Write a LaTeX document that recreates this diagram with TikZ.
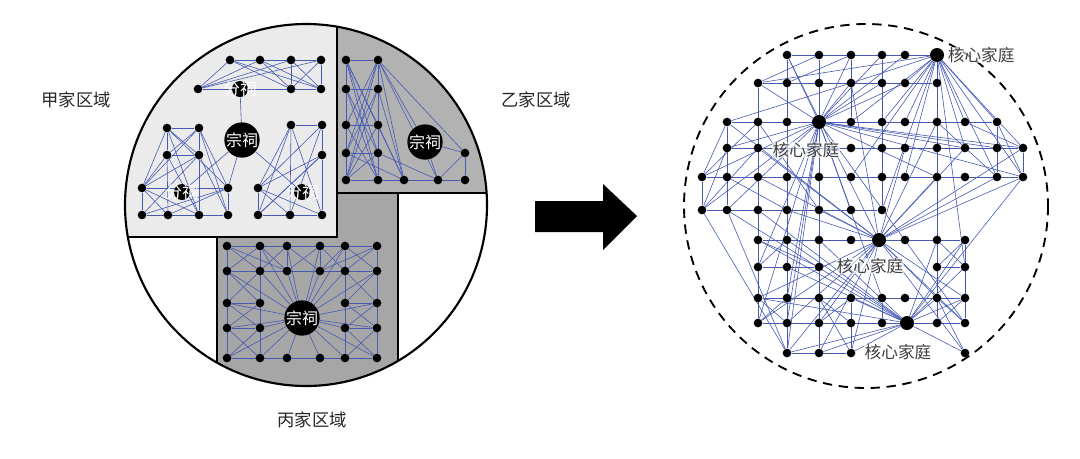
\documentclass[tikz,border=0pt]{standalone}
\usepackage{fontspec}
\newfontfamily\cjk{Noto Sans CJK SC}
\usetikzlibrary{positioning}
\pgfdeclarelayer{bg}
\pgfsetlayers{bg,main}
\definecolor{linkblue}{RGB}{70,90,180}
\tikzset{
  dot/.style={circle, fill=black, inner sep=0pt, minimum size=6.5pt},
  hub/.style={circle, fill=black, inner sep=0pt, minimum size=10.5pt},
  ancestral/.style={circle, fill=black, inner sep=0pt, minimum size=21pt, text=white, font=\cjk\fontsize{12}{12}\selectfont},
  branch/.style={circle, fill=black, inner sep=0pt, minimum size=12pt},
  branchtext/.style={text=white, font=\cjk\fontsize{12.5}{12.5}\selectfont},
  famtext/.style={text=black!75, font=\cjk\fontsize{12.5}{12.5}\selectfont, fill=white, fill opacity=0.6, text opacity=1, inner sep=0.5pt},
  region/.style={font=\cjk\fontsize{13}{13}\selectfont, text=black!85},
  link/.style={draw=linkblue, line width=0.45pt}
}
\begin{document}
\begin{tikzpicture}[x=0.75pt, y=-0.75pt]
\useasboundingbox (0,0) rectangle (1080,458);

% left circle with three family regions
\begin{pgfonlayer}{bg}
\begin{scope}
  \clip (306,205) circle (181);
  \fill[white] (306,205) circle (181);
  \filldraw[fill=black!35, draw=black, line width=0.9pt] (217,193) rectangle (398,400);
  \filldraw[fill=black!30, draw=black, line width=0.9pt] (335,10) rectangle (500,193);
  \filldraw[fill=black!8, draw=black, line width=0.9pt] (110,10) rectangle (337,237);
\end{scope}
\end{pgfonlayer}
\draw[line width=1.6pt] (306,205) circle (181);

% region names
\node[region] (jia) at (76,100) {甲家区域};
\node[region] (yi) at (536,100) {乙家区域};
\node[region] (bing) at (312,420) {丙家区域};

% family jia
\node[ancestral] (zc1) at (242,140) {宗祠};
\node[branch] (f1) at (240,89) {};
\node[branch] (f2) at (182,192) {};
\node[branch] (f3) at (302,192) {};
\foreach \n/\x/\y in {t1/230/60,t2/260/60,t3/291/60,t4/321/60,t5/198/89,t6/291/89,t7/321/89,
  a1/167/128,a2/199/128,a3/167/155,a4/199/155,a5/142/188,a6/228/188,a7/142/215,a8/168/215,a9/199/215,a10/228/215,
  b1/291/125,b2/322/125,b3/322/155,b4/258/188,b5/258/215,b6/290/215,b7/322/215}
  \node[dot] (\n) at (\x,\y) {};
\begin{pgfonlayer}{bg}
\foreach \a/\b in {t1/t4,t5/t7,t1/t5,t1/t6,t1/t7,t2/t5,t2/t6,t2/t7,t3/t5,t3/t7,t4/t6,t4/t7,t3/t6,t4/t5,t2/t4,
  a1/a2,a3/a4,a7/a10,a5/a6,a1/a3,a2/a4,a3/a5,a4/a9,a5/a7,a6/a10,a1/a4,a2/a3,a1/a9,a2/a5,a2/a6,a1/a6,a3/a8,a4/a10,a5/a8,a7/a6,a4/a5,a3/a9,a2/a10,a5/a9,a6/a8,a1/a5,a4/a7,
  b1/b2,b2/b3,b3/b7,b4/b7,b5/b7,b4/b5,b1/b4,b1/b6,b1/b7,b2/b4,b2/b6,b3/b5,b3/b4,b4/b6,b5/b3,b1/b5,
  zc1/f1,zc1/f2,zc1/f3,zc1/a6}
  \draw[link] (\a) -- (\b);
\end{pgfonlayer}
\node[branchtext] (lf1) at (f1) {分祠};
\node[branchtext] (lf2) at (f2) {分祠};
\node[branchtext] (lf3) at (f3) {分祠};

% family yi
\node[ancestral] (zc2) at (425,142) {宗祠};
\foreach \n/\x/\y in {e1/346/60,e2/378/60,e3/346/89,e4/378/89,e5/346/125,e6/378/125,e7/346/153,e8/378/153,e9/465/153,
  e10/346/180,e11/378/180,e12/404/180,e13/438/180,e14/465/180}
  \node[dot] (\n) at (\x,\y) {};
\begin{pgfonlayer}{bg}
\foreach \a/\b in {e1/e2,e1/e10,e2/e11,e3/e4,e5/e6,e7/e8,e10/e14,e9/e14,e1/e8,e1/e11,e1/e12,e2/e5,e2/e7,e2/e10,e2/e12,
  e2/e13,e2/zc2,e2/e9,e3/e11,e4/e10,e4/e12,e5/e11,e6/e10,e6/e12,e7/e12,e8/e10,e8/e13,e9/e13,zc2/e9,zc2/e13,e1/e6,e3/e8,e4/e7}
  \draw[link] (\a) -- (\b);
\end{pgfonlayer}

% family bing
\node[ancestral] (zc3) at (302,318) {宗祠};
\foreach \j/\cols in {1/{1,2,3,4,5,6},2/{1,2,3,4,5,6},3/{1,2,5,6},4/{1,2,5,6},5/{1,2,3,4,5,6}}
  \foreach \i in \cols {
    \pgfmathtruncatemacro\ii{\i-1}
    \pgfmathtruncatemacro\jj{\j-1}
    \pgfmathsetmacro\px{{227,260,287,320,345,377}[\ii]}
    \pgfmathsetmacro\py{{246,271,303,328,358}[\jj]}
    \node[dot] (p-\i-\j) at (\px,\py) {};
  }
\begin{pgfonlayer}{bg}
\foreach \a/\b in {1-1/6-1,1-2/6-2,1-5/6-5,1-3/2-3,5-3/6-3,1-4/2-4,5-4/6-4,1-1/1-5,2-1/2-5,5-1/5-5,6-1/6-5,3-1/3-2,4-1/4-2,
  1-1/2-2,2-1/1-2,2-1/3-2,3-1/2-2,4-1/5-2,5-1/4-2,5-1/6-2,6-1/5-2,1-2/2-3,2-2/1-3,5-2/6-3,6-2/5-3,1-3/2-4,2-3/1-4,
  1-4/2-5,2-4/1-5,5-4/6-5,6-4/5-5,5-3/6-4,6-3/5-4,1-1/3-2,6-1/4-2,3-1/4-2,4-1/3-2}
  \draw[link] (p-\a) -- (p-\b);
\foreach \b in {2-1,3-1,4-1,5-1,2-2,3-2,4-2,5-2,1-3,6-3,2-4,5-4,1-5,2-5,3-5,4-5,5-5,6-5,1-4,6-4,1-2,6-2}
  \draw[link] (zc3) -- (p-\b);
\end{pgfonlayer}

% arrow between the two states
\fill (535,201) -- (603,201) -- (603,184) -- (637,216) -- (603,250) -- (603,232) -- (535,232) -- cycle;

% right circle of nuclear families
\draw[line width=1.4pt, dash pattern=on 7pt off 5pt] (866,206) circle (182);
\foreach \r/\cols in {1/{4,5,6,7,8},2/{3,4,5,6,7,8,9},3/{2,3,4,6,7,8,9,10,11},4/{2,3,6,7,8,9,10,11,12},
  5/{1,2,3,4,5,6,7,8,9,10,11,12},6/{1,2,3,4,5,6,7},7/{3,4,5,6,8,9,10},8/{3,4,5,9,10},
  9/{3,4,5,6,7,8,9,10},10/{3,4,5,6,7,9,10},11/{4,5,6,10}}
  \foreach \c in \cols {
    \pgfmathtruncatemacro\ci{\c-1}
    \pgfmathtruncatemacro\ri{\r-1}
    \pgfmathsetmacro\px{{702,727,758,787,819,851,882,905,937,965,997,1023}[\ci]}
    \pgfmathsetmacro\py{{55,83,122,148,177,210,240,267,298,323,353}[\ri]}
    \node[dot] (R-\c-\r) at (\px,\py) {};
  }
\node[hub] (hA) at (819,122) {};
\node[hub] (hB) at (937,55) {};
\node[hub] (hC) at (879,240) {};
\node[hub] (hD) at (907,323) {};
\begin{pgfonlayer}{bg}
% rows and columns
\foreach \a/\b in {4-1/8-1,3-2/9-2,2-3/11-3,2-4/12-4,1-5/12-5,1-6/7-6,3-7/10-7,3-8/5-8,9-8/10-8,3-9/10-9,3-10/10-10,4-11/6-11,
  3-2/3-10,4-1/4-11,2-3/2-6,1-5/1-6,12-4/12-5,10-7/10-10,9-7/9-10,5-7/5-11,6-9/6-11,7-1/7-6,9-2/9-5,6-1/6-3,11-3/11-5,5-9/5-10,7-9/7-10}
  \draw[link] (R-\a) -- (R-\b);
\draw[link] (R-8-1) -- (hB);
% spokes of the nuclear families
\foreach \b in {4-1,5-1,6-1,7-1,8-1,3-2,6-2,7-2,8-2,2-4,1-5,1-6,2-6,3-8,4-9,4-10,4-11,5-11,3-10,10-4,11-4,12-4,12-5,10-3,9-5,7-9,10-10,6-6,5-9}
  \draw[link] (hA) -- (R-\b);
\foreach \b in {7-1,8-2,9-2,6-3,7-3,8-3,9-3,10-3,11-3,9-4,10-4,12-4,9-5,11-5,12-5,6-5,7-6,10-8,9-8,8-5,3-2,6-2}
  \draw[link] (hB) -- (R-\b);
\foreach \b in {4-1,6-2,2-3,3-4,3-5,4-6,5-6,12-4,12-5,11-5,10-4,9-5,3-9,3-10,4-11,5-11,6-11,10-9,10-10,9-9,4-10,5-10,9-3,8-4,10-11}
  \draw[link] (hC) -- (R-\b);
\foreach \b in {3-6,4-8,3-9,4-11,5-11,6-11,10-11,10-7,10-8,9-7,5-7,6-9,12-5,3-7,4-7,2-6,9-9,10-9}
  \draw[link] (hD) -- (R-\b);
\foreach \a/\b in {1-5/3-3,1-6/3-4,2-6/4-11,1-6/4-11,1-5/2-3,1-6/2-4,2-5/4-6,3-3/5-6,2-3/6-2,3-2/5-1,4-2/6-1,11-3/12-5,10-3/12-4,9-3/11-5,
  3-7/5-8,4-7/3-8,3-9/4-10,4-9/3-10,5-9/6-10,6-9/5-10,9-9/10-10,10-9/9-10,9-7/10-8,10-7/9-8,6-11/5-9,10-11/9-9}
  \draw[link] (R-\a) -- (R-\b);
\end{pgfonlayer}
\node[famtext, right=2pt of hB] (kB) {核心家庭};
\node[famtext] (kA) at (806,150) {核心家庭};
\node[famtext] (kC) at (870,266) {核心家庭};
\node[famtext] (kD) at (898,352) {核心家庭};
\end{tikzpicture}
\end{document}
